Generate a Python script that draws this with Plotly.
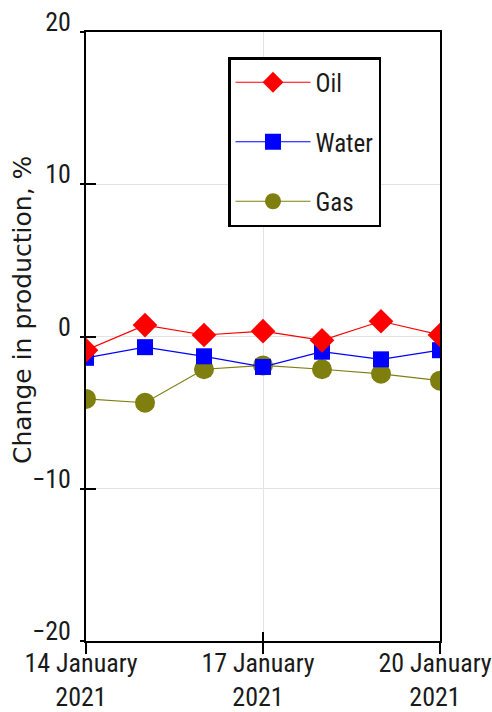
import plotly.graph_objects as go

dates = ["2021-01-14", "2021-01-15", "2021-01-16", "2021-01-17",
         "2021-01-18", "2021-01-19", "2021-01-20"]
oil = [-0.9, 0.75, 0.1, 0.35, -0.25, 1.0, 0.1]
water = [-1.4, -0.7, -1.3, -2.0, -1.0, -1.5, -0.9]
gas = [-4.1, -4.35, -2.15, -1.9, -2.15, -2.45, -2.9]

x_tickvals = ["2021-01-14", "2021-01-17", "2021-01-20"]
x_ticktext = ["14 January<br>2021", "17 January<br>2021", "20 January<br>2021"]
y_tickvals = [-20, -10, 0, 10, 20]
y_title = "Change in production, %"

NARROW = "Roboto Condensed, Liberation Sans Narrow, sans-serif"
WIDE = "DejaVu Sans, Verdana, sans-serif"
TXT = "#1a1a1a"

fig = go.Figure()
fig.add_trace(go.Scatter(x=dates, y=gas, name="Gas", mode="lines+markers",
                         line=dict(color="#7f7f0f", width=1.2),
                         marker=dict(symbol="circle", size=20, color="#7f7f0f"),
                         legendgroup="g", legendrank=3))
fig.add_trace(go.Scatter(x=dates, y=water, name="Water", mode="lines+markers",
                         line=dict(color="#0000ff", width=1.2),
                         marker=dict(symbol="square", size=16, color="#0000ff"),
                         legendgroup="w", legendrank=2))
fig.add_trace(go.Scatter(x=dates, y=oil, name="Oil", mode="lines+markers",
                         line=dict(color="#ff0000", width=1.2),
                         marker=dict(symbol="diamond", size=19, color="#ff0000"),
                         legendgroup="o", legendrank=1))
# empty trace so the overlay axes (crossing tick halves) exist
fig.add_trace(go.Scatter(x=[None], y=[None], xaxis="x2", yaxis="y2",
                         showlegend=False, hoverinfo="skip"))

fig.update_layout(
    width=492, height=712,
    margin=dict(l=86, r=52, t=32, b=71, autoexpand=False),
    paper_bgcolor="white", plot_bgcolor="white",
    font=dict(family=NARROW, size=26, color=TXT),
    showlegend=True,
    legend=dict(x=(228 - 86) / 354, y=(641 - 57) / 609, xanchor="left", yanchor="top",
                bordercolor="black", borderwidth=2.5, bgcolor="white",
                font=dict(size=25, family=NARROW, color=TXT),
                tracegroupgap=24, traceorder="grouped",
                itemsizing="trace", itemwidth=75),
    xaxis=dict(type="date", range=["2021-01-14", "2021-01-20"],
               tickvals=x_tickvals, ticktext=x_ticktext,
               showline=True, linecolor="black", linewidth=2, mirror=True,
               ticks="outside", ticklen=11, tickwidth=1.5, tickcolor="black",
               ticklabelshift=-5, ticklabelstandoff=-13, ticklabeloverflow="allow",
               showgrid=True, gridcolor="#e3e3e3", gridwidth=1,
               zeroline=False, automargin=False, tickfont=dict(size=26)),
    yaxis=dict(range=[-20, 20], tickvals=y_tickvals,
               showline=True, linecolor="black", linewidth=2, mirror=True,
               ticks="inside", ticklen=10, tickwidth=1.5, tickcolor="black",
               ticklabelshift=-10, ticklabelstandoff=8, ticklabeloverflow="allow",
               showgrid=True, gridcolor="#e3e3e3", gridwidth=1,
               zeroline=False, automargin=False, tickfont=dict(size=26)),
    xaxis2=dict(type="date", range=["2021-01-14", "2021-01-20"], overlaying="x",
                anchor="y2", side="bottom", tickvals=x_tickvals,
                showticklabels=False, showgrid=False, showline=False, zeroline=False,
                ticks="inside", ticklen=9, tickwidth=1.5, tickcolor="black",
                automargin=False),
    yaxis2=dict(range=[-20, 20], overlaying="y", anchor="x2", side="left",
                tickvals=y_tickvals, showticklabels=False, showgrid=False,
                showline=False, zeroline=False,
                ticks="outside", ticklen=5, tickwidth=1.5, tickcolor="black",
                automargin=False),
    annotations=[dict(text=y_title, textangle=-90, xref="paper", yref="paper",
                      x=(22 - 86) / 354, y=(641 - 310) / 609,
                      xanchor="center", yanchor="middle", showarrow=False,
                      font=dict(family=WIDE, size=25, color=TXT))],
)

fig.write_html("out.html", config={"displayModeBar": False},
               post_script="document.body.style.margin='0';document.body.style.padding='0';document.body.style.overflow='hidden';")
